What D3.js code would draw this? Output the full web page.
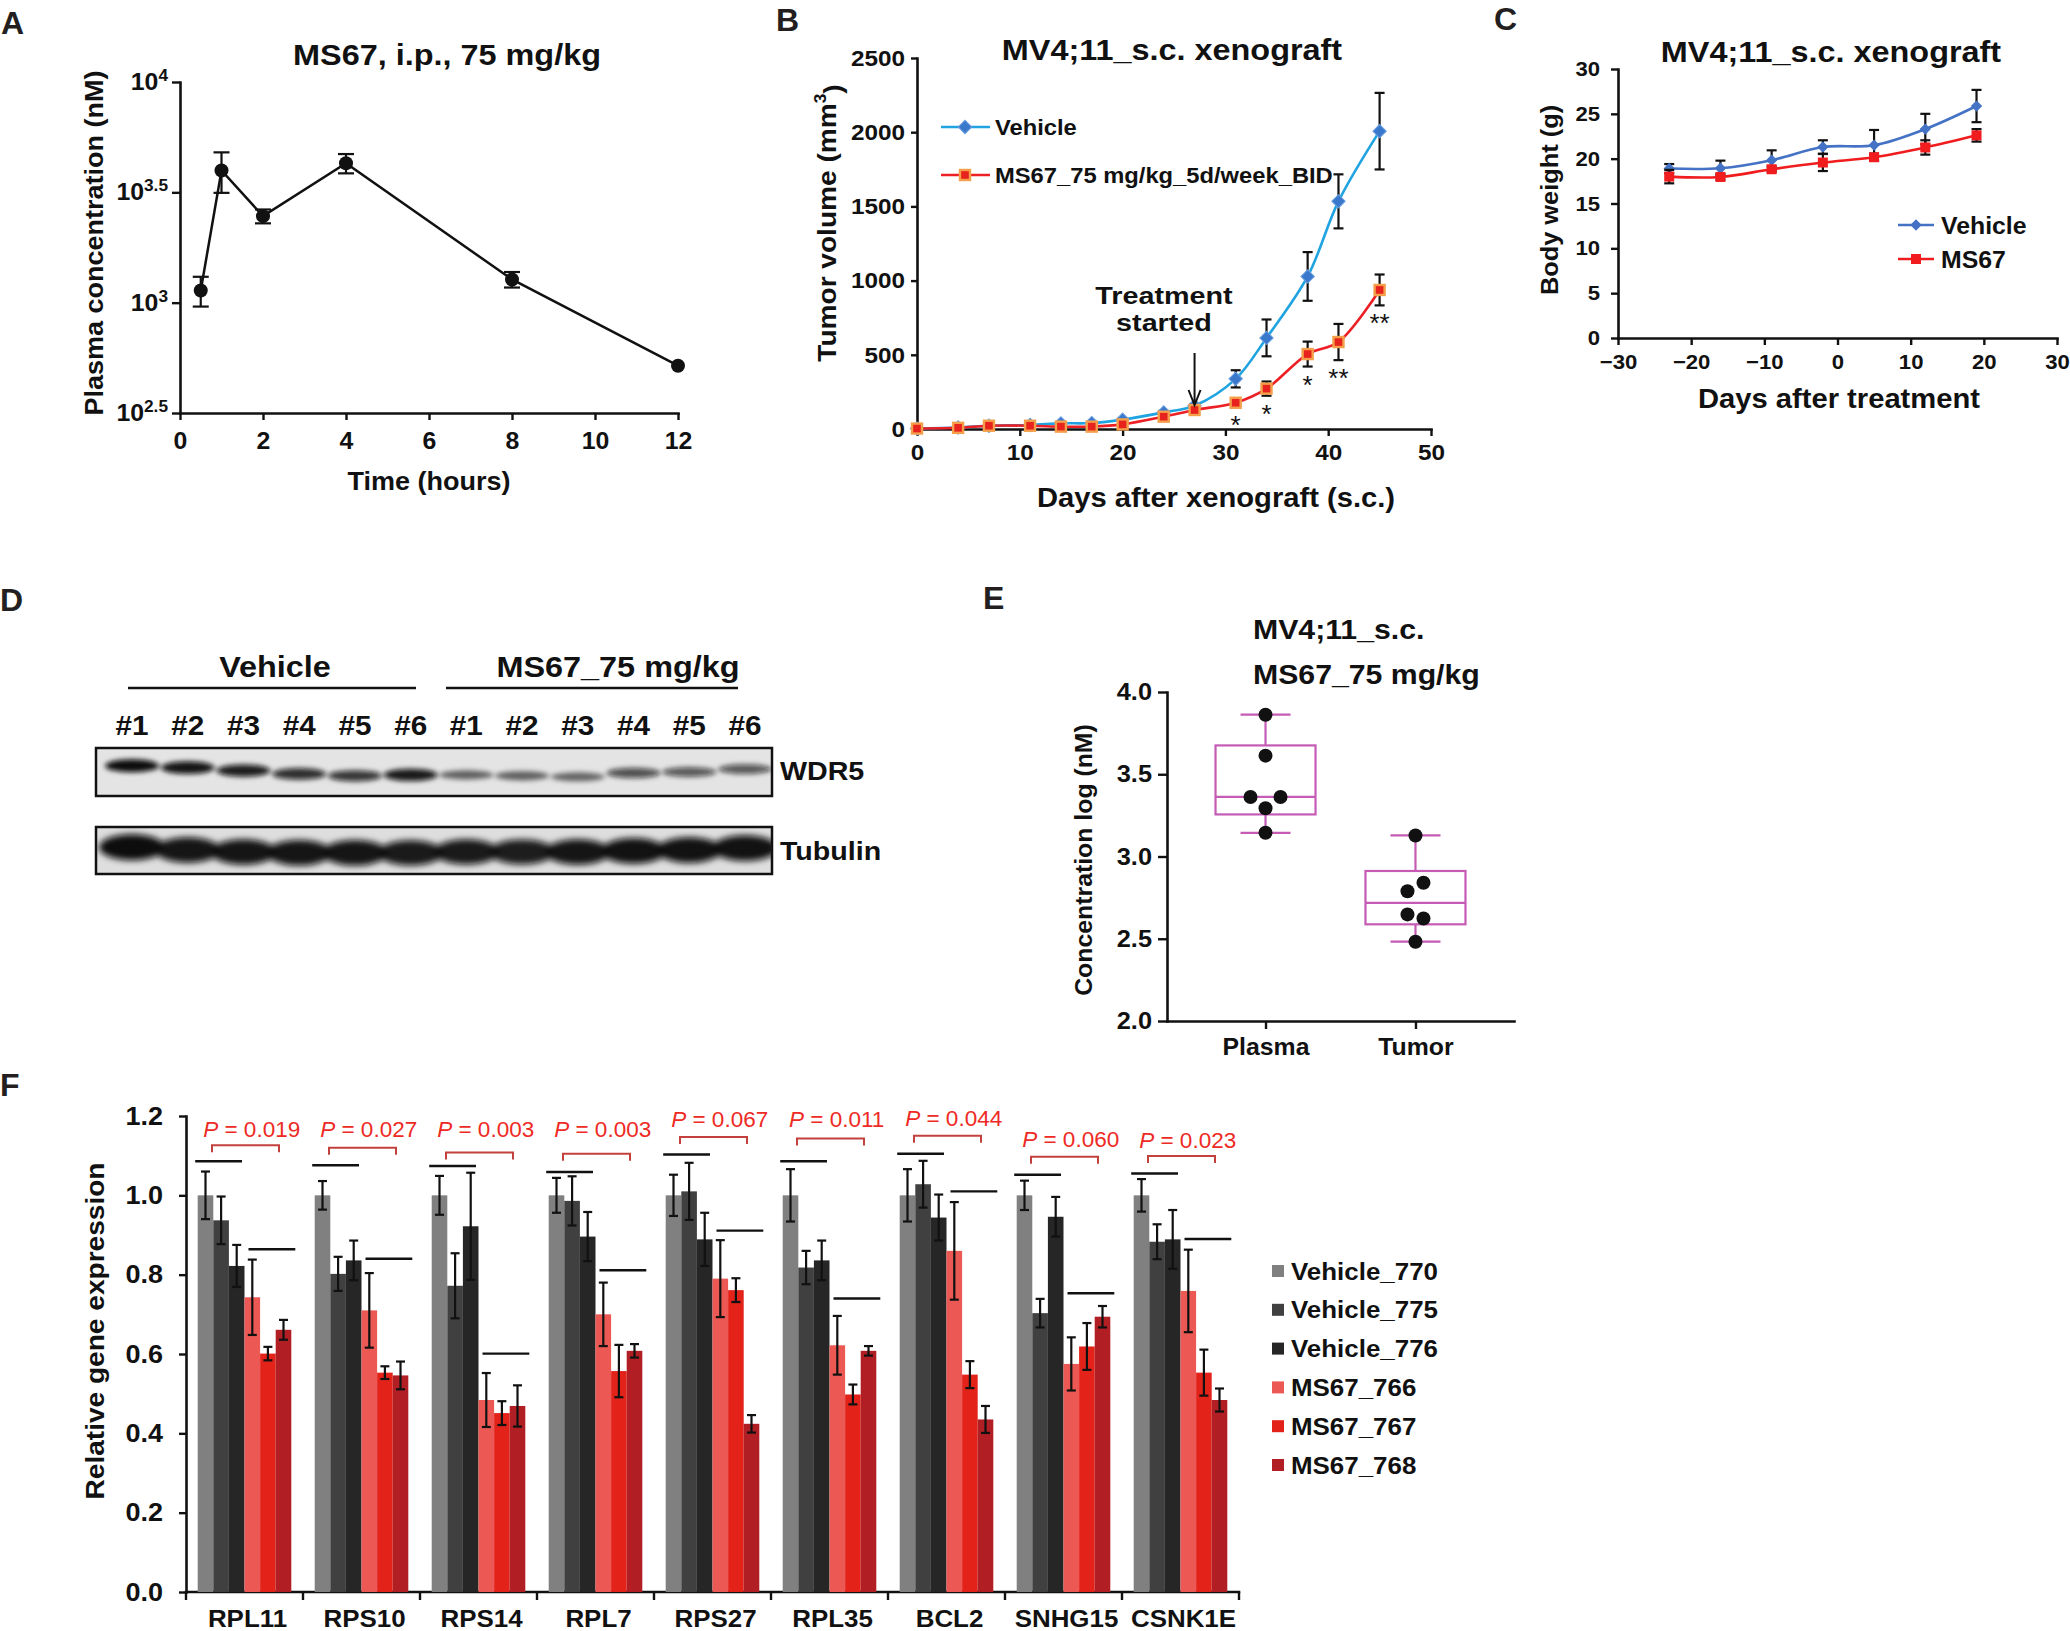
<!DOCTYPE html>
<html lang="en">
<head>
<meta charset="UTF-8">
<title>MS67 in vivo</title>
<script src="https://cdn.jsdelivr.net/npm/d3@7/dist/d3.min.js"></script>
<style>
  body { margin: 0; background: #fff; }
  text { white-space: pre; }
</style>
</head>
<body>
<div id="vis"></div>
<script>
// ---------- data ----------

// A: plasma concentration (nM) after one 75 mg/kg i.p. dose
var pkHours = [0.5, 1, 2, 4, 8, 12];
var pkConc = [1135, 3972, 2466, 4285, 1274, 518];
var pkSd = [175, 827, 178, 430, 103, 0];
var pkTickExp = [2.5, 3, 3.5, 4];

// B: tumor volume (mm3) by days after xenograft
var xenoDays = [0, 4, 7, 11, 14, 17, 20, 24, 27, 31, 34, 38, 41, 45];
var xenoVehicle = [3, 10, 22, 27, 38, 40, 63, 112, 157, 338, 614, 1028, 1534, 2007];
var xenoVehicleSd = [2, 4, 5, 5, 6, 6, 8, 10, 12, 58, 124, 164, 182, 258];
var xenoMs67 = [3, 8, 22, 22, 16, 16, 31, 83, 128, 177, 272, 505, 586, 937];
var xenoMs67Sd = [2, 4, 5, 5, 6, 6, 8, 10, 12, 30, 48, 84, 122, 104];
var xenoSig = ["", "", "", "", "", "", "", "", "", "*", "*", "*", "**", "**"];
var treatmentDay = 27;

// C: body weight (g) by days after treatment
var bwDays = [-23, -16, -9, -2, 5, 12, 19];
var bwVehicle = [18.9, 18.93, 19.83, 21.3, 21.5, 23.3, 25.87];
var bwVehicleSd = [0.5, 0.85, 1.1, 0.75, 1.7, 1.7, 1.8];
var bwMs67 = [18.0, 17.96, 18.82, 19.57, 20.16, 21.25, 22.6];
var bwMs67Sd = [0.75, 0.3, 0.3, 0.95, 0.4, 0.8, 0.7];

// D: western blot lanes, band intensity (0-1) and mobility within the strip (0-1)
var blotLanes = ["#1", "#2", "#3", "#4", "#5", "#6", "#1", "#2", "#3", "#4", "#5", "#6"];
var wdr5Level = [1.0, 0.95, 0.9, 0.8, 0.75, 0.92, 0.45, 0.45, 0.42, 0.6, 0.55, 0.55];
var wdr5Mobility = [0.37, 0.41, 0.47, 0.54, 0.58, 0.56, 0.56, 0.58, 0.6, 0.52, 0.5, 0.44];
var tubulinLevel = [1, 0.95, 0.95, 0.95, 0.95, 0.92, 0.92, 0.9, 0.95, 0.97, 0.97, 0.97];
var tubulinMobility = [0.43, 0.49, 0.53, 0.55, 0.55, 0.55, 0.53, 0.53, 0.53, 0.51, 0.49, 0.45];

// E: log concentration (nM), MS67 75 mg/kg
var plasmaLog = [3.862, 3.613, 3.362, 3.362, 3.293, 3.144];
var plasmaSide = [0, 0, -1, 1, 0, 0];
var tumorLog = [3.128, 2.840, 2.789, 2.648, 2.623, 2.482];
var tumorSide = [0, 1, -1, -1, 1, 0];

// F: relative gene expression
var genes = ["RPL11", "RPS10", "RPS14", "RPL7", "RPS27", "RPL35", "BCL2", "SNHG15", "CSNK1E"];
var samples = ["Vehicle_770", "Vehicle_775", "Vehicle_776", "MS67_766", "MS67_767", "MS67_768"];
var expr770 = [1, 1, 1, 1, 1, 1, 1, 1, 1];
var expr775 = [0.937, 0.802, 0.772, 0.986, 1.01, 0.818, 1.028, 0.703, 0.883];
var expr776 = [0.822, 0.836, 0.922, 0.896, 0.889, 0.836, 0.944, 0.946, 0.889];
var expr766 = [0.743, 0.710, 0.484, 0.700, 0.790, 0.622, 0.860, 0.575, 0.759];
var expr767 = [0.601, 0.553, 0.451, 0.557, 0.761, 0.498, 0.548, 0.619, 0.553];
var expr768 = [0.661, 0.546, 0.469, 0.608, 0.424, 0.608, 0.435, 0.694, 0.484];
var err770 = [0.06, 0.036, 0.049, 0.044, 0.052, 0.066, 0.066, 0.037, 0.041];
var err775 = [0.06, 0.043, 0.082, 0.062, 0.072, 0.042, 0.059, 0.036, 0.044];
var err776 = [0.053, 0.05, 0.135, 0.062, 0.067, 0.05, 0.058, 0.05, 0.074];
var err766 = [0.095, 0.094, 0.068, 0.08, 0.097, 0.074, 0.123, 0.067, 0.104];
var err767 = [0.017, 0.016, 0.03, 0.066, 0.03, 0.025, 0.034, 0.059, 0.058];
var err768 = [0.025, 0.035, 0.052, 0.017, 0.022, 0.012, 0.034, 0.027, 0.029];
var pValues = ["0.019", "0.027", "0.003", "0.003", "0.067", "0.011", "0.044", "0.060", "0.023"];
var vehicleBar = [1.086, 1.076, 1.074, 1.059, 1.103, 1.086, 1.105, 1.052, 1.055];
var ms67Bar = [0.864, 0.840, 0.601, 0.811, 0.911, 0.740, 1.010, 0.753, 0.890];
var bracketLevel = [1.126, 1.12, 1.108, 1.105, 1.147, 1.143, 1.15, 1.097, 1.099];
var pLevel = [1.146, 1.146, 1.146, 1.146, 1.172, 1.172, 1.175, 1.123, 1.12];

// ---------- setup ----------
var width = 2070;
var height = 1631;
var INK = "#111";
var FONT = '"Liberation Sans", Arial, Helvetica, sans-serif';
var SX = 1.08; // the figure's lettering is a little wider than plain Arial

var svg = d3.select("#vis").append("svg")
    .attr("width", width)
    .attr("height", height)
    .attr("font-family", FONT)
    .style("display", "block");

svg.append("rect").attr("width", width).attr("height", height).attr("fill", "#fff");

// text placed at (x, y), optionally rotated, and stretched a bit sideways
function label(g, x, y, str, o) {
  o = o || {};
  var tr = "translate(" + x + "," + y + ")";
  if (o.rotate) tr += " rotate(" + o.rotate + ")";
  tr += " scale(" + (o.sx == null ? SX : o.sx) + ",1)";
  var t = g.append("text")
      .attr("transform", tr)
      .attr("text-anchor", o.anchor || "middle")
      .attr("font-size", o.size || 22)
      .attr("font-weight", o.weight || "bold")
      .attr("fill", o.fill || INK);
  if (str != null) t.text(str);
  return t;
}

function styleAxis(g, size) {
  g.attr("font-family", FONT).attr("font-size", size).attr("font-weight", "bold");
  g.selectAll(".domain").attr("stroke", INK).attr("stroke-width", 2.6).attr("stroke-linecap", "square");
  g.selectAll(".tick line").attr("stroke", INK).attr("stroke-width", 2.4);
  g.selectAll(".tick text").attr("fill", INK).each(function() {
    var t = d3.select(this);
    var x = +t.attr("x") || 0, y = +t.attr("y") || 0;
    t.attr("transform", "translate(" + x + "," + y + ") scale(" + SX + ",1) translate(" + (-x) + "," + (-y) + ")");
  });
  return g;
}

function errorBars(g, data, x, y, cap) {
  var eb = g.append("g").attr("stroke", INK).attr("stroke-width", 2.2).attr("fill", "none");
  data.filter(function(d) { return d.sd > 0; }).forEach(function(d) {
    var cx = x(d.x), y0 = y(d.y - d.sd), y1 = y(d.y + d.sd);
    eb.append("line").attr("x1", cx).attr("x2", cx).attr("y1", y0).attr("y2", y1);
    eb.append("line").attr("x1", cx - cap).attr("x2", cx + cap).attr("y1", y0).attr("y2", y0);
    eb.append("line").attr("x1", cx - cap).attr("x2", cx + cap).attr("y1", y1).attr("y2", y1);
  });
}

function zip(xs, ys, sds) {
  return xs.map(function(x, i) { return { x: x, y: ys[i], sd: sds[i] }; });
}

// panel letters
[["A", 1, 34], ["B", 776, 31], ["C", 1494, 30], ["D", 0, 611], ["E", 983, 609], ["F", 0, 1096]].forEach(function(p) {
  label(svg, p[1], p[2], p[0], { anchor: "start", size: 32, fill: "#231f20", sx: 1 });
});

// ---------- A: pharmacokinetics ----------
var gA = svg.append("g");
var xA = d3.scaleLinear().domain([0, 12]).range([180, 678]);
var yA = d3.scaleLog().domain([Math.pow(10, 2.5), 1e4]).range([413, 82]);

styleAxis(gA.append("g").attr("transform", "translate(0," + yA.range()[0] + ")")
    .call(d3.axisBottom(xA).tickValues(d3.range(0, 13, 2)).tickSize(7).tickPadding(13).tickSizeOuter(0)), 23);

var ayA = gA.append("g").attr("transform", "translate(" + xA(0) + ",0)")
    .call(d3.axisLeft(yA).tickValues(pkTickExp.map(function(e) { return Math.pow(10, e); }))
      .tickSize(8).tickPadding(4).tickSizeOuter(0).tickFormat(""));
styleAxis(ayA, 23);
ayA.selectAll(".tick text").each(function(d, i) {
  var t = d3.select(this);
  t.append("tspan").text("10");
  t.append("tspan").attr("dy", "-0.55em").attr("font-size", 16).text(pkTickExp[i]);
});

var pk = zip(pkHours, pkConc, pkSd);
errorBars(gA, pk, xA, yA, 8);
gA.append("path").datum(pk)
    .attr("fill", "none").attr("stroke", INK).attr("stroke-width", 2.5)
    .attr("d", d3.line().x(function(d) { return xA(d.x); }).y(function(d) { return yA(d.y); }));
gA.selectAll("circle.pk").data(pk).join("circle").attr("class", "pk")
    .attr("cx", function(d) { return xA(d.x); })
    .attr("cy", function(d) { return yA(d.y); })
    .attr("r", 7).attr("fill", INK);

label(gA, 447, 65, "MS67, i.p., 75 mg/kg", { size: 30 });
label(gA, 429, 490, "Time (hours)", { size: 25 });
label(gA, 103, 243, "Plasma concentration (nM)", { size: 25, rotate: -90 });

// ---------- B: tumor volume ----------
var gB = svg.append("g");
var xB = d3.scaleLinear().domain([0, 50]).range([917, 1431]);
var yB = d3.scaleLinear().domain([0, 2500]).range([429, 58]);
var vehBlue = "#1fa3e1", msRed = "#ec1f24";

styleAxis(gB.append("g").attr("transform", "translate(0," + yB(0) + ")")
    .call(d3.axisBottom(xB).ticks(5).tickFormat(d3.format("d")).tickSize(7).tickPadding(8).tickSizeOuter(0)), 22.5);
styleAxis(gB.append("g").attr("transform", "translate(" + xB(0) + ",0)")
    .call(d3.axisLeft(yB).tickValues(d3.range(0, 2501, 500)).tickFormat(d3.format("d")).tickSize(6).tickPadding(6).tickSizeOuter(0)), 22.5);

var vehB = zip(xenoDays, xenoVehicle, xenoVehicleSd);
var msB = zip(xenoDays, xenoMs67, xenoMs67Sd);
var lineB = d3.line().x(function(d) { return xB(d.x); }).y(function(d) { return yB(d.y); })
    .curve(d3.curveCatmullRom.alpha(0.5));

function diamonds(g, data, x, y, side, fill, stroke) {
  g.append("g").selectAll("rect").data(data).join("rect")
      .attr("x", -side / 2).attr("y", -side / 2).attr("width", side).attr("height", side)
      .attr("transform", function(d) { return "translate(" + x(d.x) + "," + y(d.y) + ") rotate(45)"; })
      .attr("fill", fill).attr("stroke", stroke).attr("stroke-width", 1);
}
function squares(g, data, x, y, side, fill, stroke, sw) {
  g.append("g").selectAll("rect").data(data).join("rect")
      .attr("x", function(d) { return x(d.x) - side / 2; })
      .attr("y", function(d) { return y(d.y) - side / 2; })
      .attr("width", side).attr("height", side)
      .attr("fill", fill).attr("stroke", stroke).attr("stroke-width", sw);
}

errorBars(gB, vehB, xB, yB, 5);
gB.append("path").datum(vehB).attr("fill", "none").attr("stroke", vehBlue).attr("stroke-width", 2.6).attr("d", lineB);
diamonds(gB, vehB, xB, yB, 9.5, "#3a78cc", "#6d9fe0");
errorBars(gB, msB, xB, yB, 5);
gB.append("path").datum(msB).attr("fill", "none").attr("stroke", msRed).attr("stroke-width", 2.6).attr("d", lineB);
squares(gB, msB, xB, yB, 10, "#e8221c", "#f4a04a", 2.4);

// significance marks under the MS67 error bars
msB.forEach(function(d, i) {
  if (!xenoSig[i]) return;
  label(gB, xB(d.x), yB(d.y - d.sd) + 27, xenoSig[i], { size: 26, weight: "normal", sx: 1 });
});

// treatment start arrow
var ax = xB(treatmentDay);
gB.append("line").attr("x1", ax).attr("x2", ax).attr("y1", 353).attr("y2", 404)
    .attr("stroke", INK).attr("stroke-width", 2);
gB.append("path").attr("d", "M" + (ax - 6) + ",390 L" + ax + ",405 L" + (ax + 6) + ",390")
    .attr("fill", "none").attr("stroke", INK).attr("stroke-width", 2);
label(gB, 1164, 304, "Treatment", { size: 23, sx: 1.25 });
label(gB, 1164, 331, "started", { size: 23, sx: 1.25 });

// legend
[["Vehicle", 127, vehBlue], ["MS67_75 mg/kg_5d/week_BID", 175, msRed]].forEach(function(l, i) {
  gB.append("line").attr("x1", 941).attr("x2", 990).attr("y1", l[1]).attr("y2", l[1])
      .attr("stroke", l[2]).attr("stroke-width", 2.6);
  var pt = [{ x: 0, y: 0 }];
  var px = function() { return 965; }, py = function() { return l[1]; };
  if (i === 0) diamonds(gB, pt, px, py, 9.5, "#3a78cc", "#6d9fe0");
  else squares(gB, pt, px, py, 10, "#e8221c", "#f4a04a", 2.4);
  label(gB, 995, l[1] + 8, l[0], { anchor: "start", size: 22 });
});

label(gB, 1172, 60, "MV4;11_s.c. xenograft", { size: 30 });
label(gB, 1216, 507, "Days after xenograft (s.c.)", { size: 27 });
var tyB = label(gB, 836, 223, null, { size: 26, rotate: -90 });
tyB.append("tspan").text("Tumor volume (mm");
tyB.append("tspan").attr("dy", "-0.6em").attr("font-size", 16).text("3");
tyB.append("tspan").attr("dy", "0.6em").text(")");

// ---------- C: body weight ----------
var gC = svg.append("g");
var xC = d3.scaleLinear().domain([-30, 30]).range([1618, 2057]);
var yC = d3.scaleLinear().domain([0, 30]).range([338, 69]);
var bwBlue = "#4472c4", bwRed = "#f01c1e";

styleAxis(gC.append("g").attr("transform", "translate(0," + yC(0) + ")")
    .call(d3.axisBottom(xC).tickValues(d3.range(-30, 31, 10)).tickSize(7).tickPadding(9).tickSizeOuter(0)), 20.5);
styleAxis(gC.append("g").attr("transform", "translate(" + xC(-30) + ",0)")
    .call(d3.axisLeft(yC).tickValues(d3.range(0, 31, 5)).tickSize(7).tickPadding(11).tickSizeOuter(0)), 20.5);

var vehC = zip(bwDays, bwVehicle, bwVehicleSd);
var msC = zip(bwDays, bwMs67, bwMs67Sd);
var lineC = d3.line().x(function(d) { return xC(d.x); }).y(function(d) { return yC(d.y); })
    .curve(d3.curveCatmullRom.alpha(0.5));

errorBars(gC, vehC, xC, yC, 5);
gC.append("path").datum(vehC).attr("fill", "none").attr("stroke", bwBlue).attr("stroke-width", 2.6).attr("d", lineC);
diamonds(gC, vehC, xC, yC, 7, bwBlue, bwBlue);
errorBars(gC, msC, xC, yC, 5);
gC.append("path").datum(msC).attr("fill", "none").attr("stroke", bwRed).attr("stroke-width", 2.6).attr("d", lineC);
squares(gC, msC, xC, yC, 10, bwRed, bwRed, 0);

[["Vehicle", 225, bwBlue], ["MS67", 259, bwRed]].forEach(function(l, i) {
  gC.append("line").attr("x1", 1898).attr("x2", 1934).attr("y1", l[1]).attr("y2", l[1])
      .attr("stroke", l[2]).attr("stroke-width", 2.6);
  var pt = [{ x: 0, y: 0 }];
  var px = function() { return 1916; }, py = function() { return l[1]; };
  if (i === 0) diamonds(gC, pt, px, py, 7, bwBlue, bwBlue);
  else squares(gC, pt, px, py, 10, bwRed, bwRed, 0);
  label(gC, 1941, l[1] + 8.5, l[0], { anchor: "start", size: 23 });
});

label(gC, 1831, 62, "MV4;11_s.c. xenograft", { size: 30 });
label(gC, 1839, 408, "Days after treatment", { size: 27 });
label(gC, 1558, 200, "Body weight (g)", { size: 23.5, rotate: -90 });

// ---------- D: western blot ----------
var gD = svg.append("g");
var xLane = d3.scalePoint().domain(d3.range(blotLanes.length)).range([132, 745]);
var defs = svg.append("defs");
defs.append("filter").attr("id", "blurW").attr("x", "-50%").attr("y", "-100%").attr("width", "200%").attr("height", "300%")
    .append("feGaussianBlur").attr("stdDeviation", 2.6);
defs.append("filter").attr("id", "blurT").attr("x", "-50%").attr("y", "-100%").attr("width", "200%").attr("height", "300%")
    .append("feGaussianBlur").attr("stdDeviation", 3.2);

function strip(id, top, h, bg, levels, mobility, rx, ry0, ryk, filter) {
  defs.append("clipPath").attr("id", id).append("rect")
      .attr("x", 96).attr("y", top).attr("width", 676).attr("height", h);
  var s = gD.append("g");
  s.append("rect").attr("x", 96).attr("y", top).attr("width", 676).attr("height", h).attr("fill", bg);
  var yM = d3.scaleLinear().domain([0, 1]).range([top, top + h]);
  s.append("g").attr("clip-path", "url(#" + id + ")").attr("filter", "url(#" + filter + ")")
    .selectAll("ellipse").data(levels).join("ellipse")
      .attr("cx", function(d, i) { return xLane(i); })
      .attr("cy", function(d, i) { return yM(mobility[i]); })
      .attr("rx", rx)
      .attr("ry", function(d) { return ry0 + ryk * d; })
      .attr("fill", "#0a0a0a")
      .attr("fill-opacity", function(d) { return 0.25 + 0.75 * d; });
  s.append("rect").attr("x", 96).attr("y", top).attr("width", 676).attr("height", h)
      .attr("fill", "none").attr("stroke", INK).attr("stroke-width", 2.5);
}
strip("clipW", 748, 48, "#e4e4e4", wdr5Level, wdr5Mobility, 27, 3, 3.5, "blurW");
strip("clipT", 827, 47, "#dedede", tubulinLevel, tubulinMobility, 33, 8, 5, "blurT");

blotLanes.forEach(function(l, i) {
  label(gD, xLane(i), 735, l, { size: 27.5 });
});
label(gD, 275, 677, "Vehicle", { size: 30 });
label(gD, 618, 677, "MS67_75 mg/kg", { size: 30 });
gD.append("line").attr("x1", 128).attr("x2", 416).attr("y1", 688).attr("y2", 688).attr("stroke", INK).attr("stroke-width", 2.5);
gD.append("line").attr("x1", 446).attr("x2", 738).attr("y1", 688).attr("y2", 688).attr("stroke", INK).attr("stroke-width", 2.5);
label(gD, 780, 780, "WDR5", { anchor: "start", size: 26.5 });
label(gD, 780, 860, "Tubulin", { anchor: "start", size: 26.5 });

// ---------- E: plasma vs tumor concentration ----------
var gE = svg.append("g");
var yE = d3.scaleLinear().domain([2, 4]).range([1021, 692]);
var xE = d3.scalePoint().domain(["Plasma", "Tumor"]).range([1167, 1514]).padding(0.657);
var boxColor = "#c55bb5";

styleAxis(gE.append("g").attr("transform", "translate(0," + yE(2) + ")")
    .call(d3.axisBottom(xE).tickSize(8).tickPadding(10).tickSizeOuter(0)), 23);
styleAxis(gE.append("g").attr("transform", "translate(" + xE.range()[0] + ",0)")
    .call(d3.axisLeft(yE).tickValues([2, 2.5, 3, 3.5, 4]).tickFormat(d3.format(".1f")).tickSize(9).tickPadding(6).tickSizeOuter(0)), 23.5);

// quartiles the GraphPad way: position p * (n + 1)
function quart(sorted, p) {
  var pos = p * (sorted.length + 1) - 1;
  var lo = Math.floor(pos), hi = Math.ceil(pos);
  if (lo < 0) return sorted[0];
  if (hi >= sorted.length) return sorted[sorted.length - 1];
  return sorted[lo] + (pos - lo) * (sorted[hi] - sorted[lo]);
}

[["Plasma", plasmaLog, plasmaSide, 15], ["Tumor", tumorLog, tumorSide, 8]].forEach(function(grp) {
  var vals = grp[1].slice().sort(d3.ascending);
  var cx = xE(grp[0]);
  var q1 = quart(vals, 0.25), med = quart(vals, 0.5), q3 = quart(vals, 0.75);
  var lo = vals[0], hi = vals[vals.length - 1];
  var b = gE.append("g").attr("stroke", boxColor).attr("stroke-width", 2.2).attr("fill", "none");
  b.append("line").attr("x1", cx).attr("x2", cx).attr("y1", yE(q3)).attr("y2", yE(hi));
  b.append("line").attr("x1", cx).attr("x2", cx).attr("y1", yE(q1)).attr("y2", yE(lo));
  b.append("line").attr("x1", cx - 25).attr("x2", cx + 25).attr("y1", yE(hi)).attr("y2", yE(hi));
  b.append("line").attr("x1", cx - 25).attr("x2", cx + 25).attr("y1", yE(lo)).attr("y2", yE(lo));
  b.append("rect").attr("x", cx - 50).attr("y", yE(q3)).attr("width", 100).attr("height", yE(q1) - yE(q3));
  b.append("line").attr("x1", cx - 50).attr("x2", cx + 50).attr("y1", yE(med)).attr("y2", yE(med));
  gE.append("g").selectAll("circle").data(grp[1]).join("circle")
      .attr("cx", function(d, i) { return cx + grp[2][i] * grp[3]; })
      .attr("cy", function(d) { return yE(d); })
      .attr("r", 7).attr("fill", INK);
});

label(gE, 1253, 639, "MV4;11_s.c.", { anchor: "start", size: 28 });
label(gE, 1253, 684, "MS67_75 mg/kg", { anchor: "start", size: 28 });
label(gE, 1092, 860, "Concentration log (nM)", { size: 23, rotate: -90 });

// ---------- F: relative gene expression ----------
var gF = svg.append("g");
var xF = d3.scaleBand().domain(genes).range([186, 1239]).paddingInner(0.2).paddingOuter(0.1);
var xSub = d3.scaleBand().domain(samples).range([0, xF.bandwidth()]);
var yF = d3.scaleLinear().domain([0, 1.2]).range([1592, 1116]);
var sampleColors = ["#808080", "#404040", "#262626", "#ec5954", "#e3221a", "#b11e24"];
var exprSeries = [expr770, expr775, expr776, expr766, expr767, expr768];
var errSeries = [err770, err775, err776, err766, err767, err768];

styleAxis(gF.append("g").attr("transform", "translate(" + xF.range()[0] + ",0)")
    .call(d3.axisLeft(yF).tickValues(d3.ticks(0, 1.2, 6)).tickFormat(d3.format(".1f")).tickSize(7).tickPadding(16).tickSizeOuter(0)), 25);

// category axis: ticks sit on the band boundaries
var axF = gF.append("g").attr("transform", "translate(0," + yF(0) + ")");
axF.append("line").attr("x1", xF.range()[0]).attr("x2", xF.range()[1])
    .attr("stroke", INK).attr("stroke-width", 2.6).attr("stroke-linecap", "square");
axF.selectAll("line.edge").data(d3.range(genes.length + 1)).join("line").attr("class", "edge")
    .attr("x1", function(i) { return xF.range()[0] + i * xF.step(); })
    .attr("x2", function(i) { return xF.range()[0] + i * xF.step(); })
    .attr("y1", 0).attr("y2", 8).attr("stroke", INK).attr("stroke-width", 2.4);
genes.forEach(function(g) {
  label(gF, xF(g) + xF.bandwidth() / 2 + 3, 1627, g, { size: 24 });
});

samples.forEach(function(s, k) {
  gF.append("g").selectAll("rect").data(genes).join("rect")
      .attr("x", function(g) { return xF(g) + xSub(s); })
      .attr("y", function(g, i) { return yF(exprSeries[k][i]); })
      .attr("width", xSub.bandwidth())
      .attr("height", function(g, i) { return yF(0) - yF(exprSeries[k][i]); })
      .attr("fill", sampleColors[k]);
});
samples.forEach(function(s, k) {
  var data = genes.map(function(g, i) { return { x: g, y: exprSeries[k][i], sd: errSeries[k][i] }; });
  errorBars(gF, data, function(g) { return xF(g) + xSub(s) + xSub.bandwidth() / 2; }, yF, 4.5);
});

genes.forEach(function(g, i) {
  var x0 = xF(g), bw = xF.bandwidth(), sw = xSub.bandwidth();
  var cx = x0 + bw / 2 + 1;
  gF.append("line").attr("x1", x0 - 2.5).attr("x2", x0 + 3 * sw - 2.5)
      .attr("y1", yF(vehicleBar[i])).attr("y2", yF(vehicleBar[i]))
      .attr("stroke", INK).attr("stroke-width", 2.4);
  gF.append("line").attr("x1", x0 + 3 * sw + 4).attr("x2", x0 + 6 * sw + 4)
      .attr("y1", yF(ms67Bar[i])).attr("y2", yF(ms67Bar[i]))
      .attr("stroke", INK).attr("stroke-width", 2.4);
  var by = yF(bracketLevel[i]);
  gF.append("path")
      .attr("d", "M" + (cx - 33.5) + "," + (by + 7) + " V" + by + " H" + (cx + 33.5) + " V" + (by + 7))
      .attr("fill", "none").attr("stroke", "#c2413d").attr("stroke-width", 2);
  var t = label(gF, x0 + 54, yF(pLevel[i]), null, { size: 22.5, weight: "normal", fill: "#ee2a24", sx: 1 });
  t.append("tspan").attr("font-style", "italic").text("P");
  t.append("tspan").text(" = " + pValues[i]);
});

var legY = d3.scalePoint().domain(samples).range([1271, 1465]);
samples.forEach(function(s, k) {
  gF.append("rect").attr("x", 1272).attr("y", legY(s) - 6).attr("width", 12).attr("height", 12)
      .attr("fill", sampleColors[k]);
  label(gF, 1291, legY(s) + 8.5, s, { anchor: "start", size: 24 });
});

label(gF, 104, 1331, "Relative gene expression", { size: 26, rotate: -90 });
</script>
</body>
</html>
